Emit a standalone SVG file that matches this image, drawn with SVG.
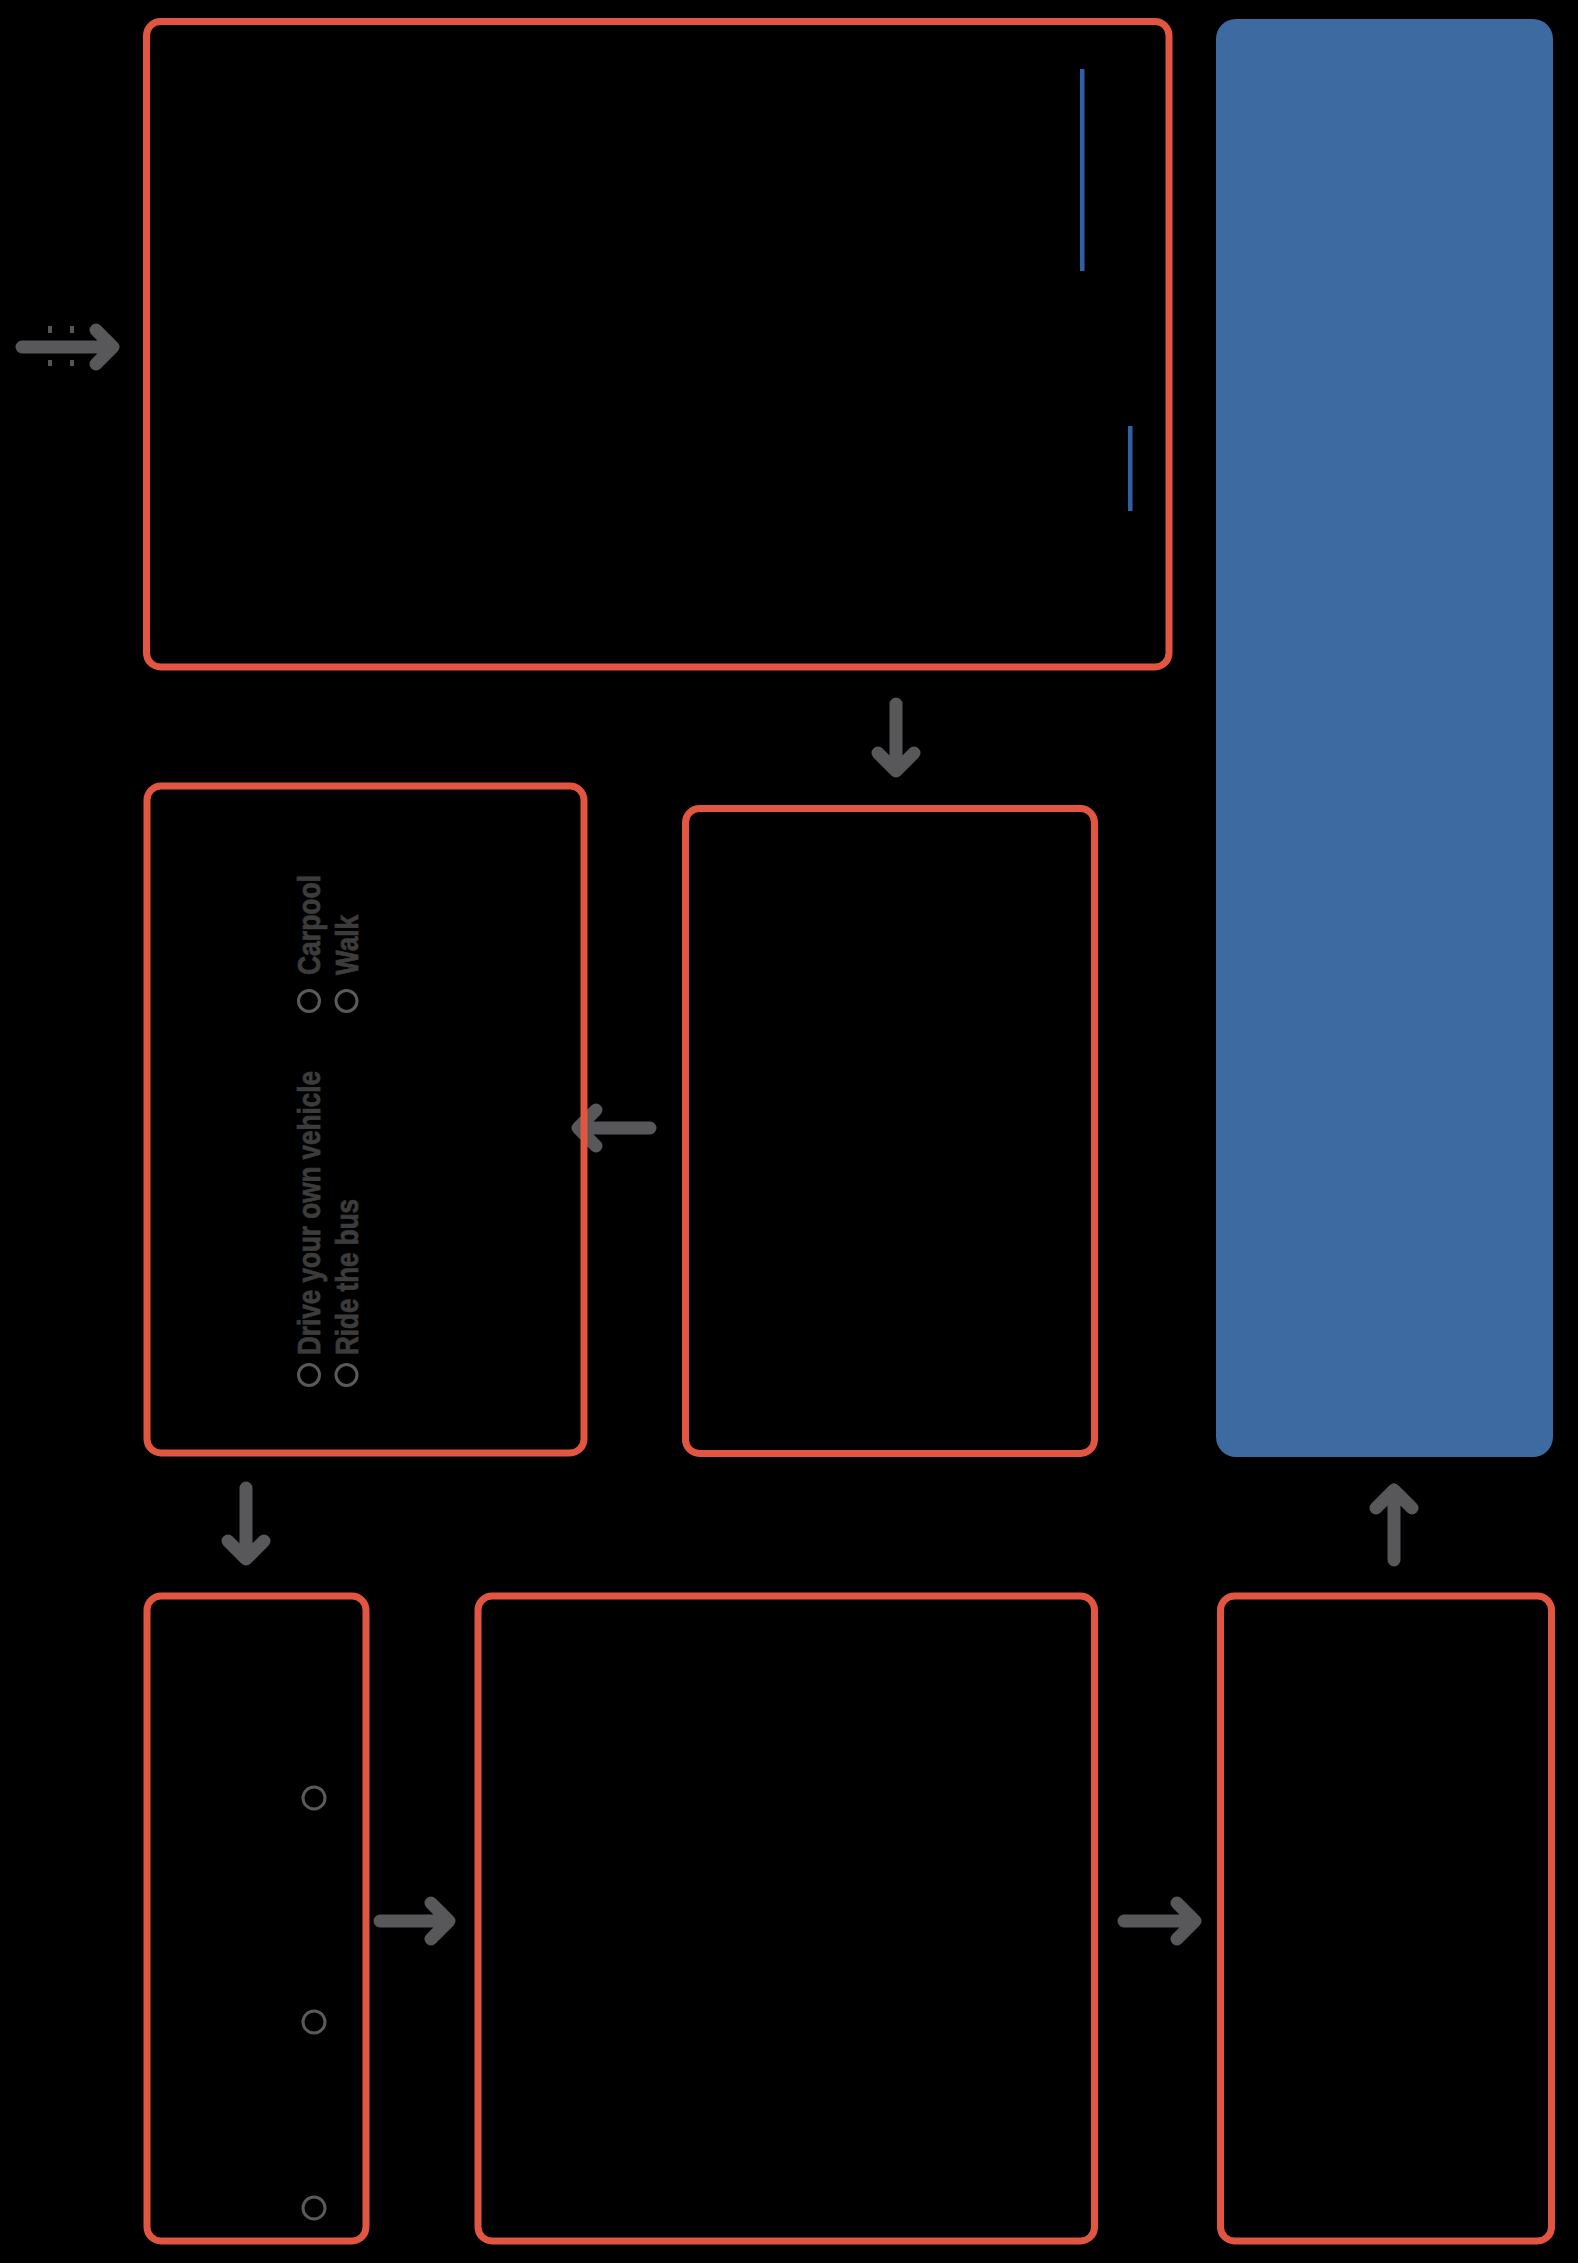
<svg xmlns="http://www.w3.org/2000/svg" width="1578" height="2263" viewBox="0 0 1578 2263">
  <defs>
    <style>
      .box { fill: none; stroke: #e15541; stroke-width: 7; }
      .arrow { fill: none; stroke: #58585b; stroke-width: 13; stroke-linecap: round; stroke-linejoin: round; }
      .ring { fill: none; stroke: #5a5a5a; stroke-width: 3; }
      .opt { font-family: "Liberation Sans", Arial, sans-serif; font-weight: bold; font-size: 31px; fill: #3c3c3c; stroke: #3c3c3c; stroke-width: 0.8; }
      .tick { fill: #555558; }
    </style>
  </defs>
  <rect x="0" y="0" width="1578" height="2263" fill="#000000"/>

  <g id="connectors">
    <g id="entry-arrow">
      <path class="arrow" d="M 22 347 L 113 347 M 96 330 L 113 347 L 96 364"/>
      <rect class="tick" x="48" y="326" width="4" height="7"/>
      <rect class="tick" x="70" y="326" width="4" height="7"/>
      <rect class="tick" x="48" y="360" width="4" height="6"/>
      <rect class="tick" x="70" y="360" width="4" height="6"/>
    </g>
    <path id="arrow-top-to-midright" class="arrow" d="M 896 704 L 896 771 M 878 753 L 896 771 L 914 753"/>
    <path id="arrow-midright-to-midleft" class="arrow" d="M 650 1128 L 578 1128 M 596 1110 L 578 1128 L 596 1146"/>
    <path id="arrow-midleft-to-botleft" class="arrow" d="M 246 1488 L 246 1559 M 228 1541 L 246 1559 L 264 1541"/>
    <path id="arrow-botleft-to-botmid" class="arrow" d="M 380 1921 L 449 1921 M 431 1903 L 449 1921 L 431 1939"/>
    <path id="arrow-botmid-to-botright" class="arrow" d="M 1124 1921 L 1195 1921 M 1177 1903 L 1195 1921 L 1177 1939"/>
    <path id="arrow-botright-to-blue" class="arrow" d="M 1394 1560 L 1394 1490 M 1376 1508 L 1394 1490 L 1412 1508"/>
  </g>

  <g id="node-top">
    <rect class="box" x="146.5" y="21.5" width="1022.5" height="645.5" rx="14" ry="14"/>
    <rect x="1080" y="69" width="4.5" height="202" fill="#2f5fa6"/>
    <rect x="1128" y="426" width="4.5" height="85" fill="#2f5fa6"/>
  </g>

  <g id="node-blue">
    <rect x="1216" y="19" width="337" height="1438" rx="20" ry="20" fill="#3d6aa0"/>
  </g>

  <g id="node-midleft">
    <rect class="box" x="147" y="786" width="437" height="667" rx="14" ry="14"/>
    <circle class="ring" cx="309" cy="1375" r="10.5"/>
    <circle class="ring" cx="346.5" cy="1375" r="10.5"/>
    <circle class="ring" cx="309" cy="1001" r="10.5"/>
    <circle class="ring" cx="346.5" cy="1001" r="10.5"/>
    <text class="opt" transform="translate(320,1355) rotate(-90)" textLength="284" lengthAdjust="spacingAndGlyphs">Drive your own vehicle</text>
    <text class="opt" transform="translate(358,1355) rotate(-90)" textLength="156" lengthAdjust="spacingAndGlyphs">Ride the bus</text>
    <text class="opt" transform="translate(320,975) rotate(-90)" textLength="100" lengthAdjust="spacingAndGlyphs">Carpool</text>
    <text class="opt" transform="translate(358,975) rotate(-90)" textLength="60" lengthAdjust="spacingAndGlyphs">Walk</text>
  </g>

  <g id="node-midright">
    <rect class="box" x="685.5" y="808.5" width="409" height="645" rx="14" ry="14"/>
  </g>

  <g id="node-botleft">
    <rect class="box" x="147" y="1596" width="219" height="645" rx="14" ry="14"/>
    <circle class="ring" cx="314" cy="1798" r="11"/>
    <circle class="ring" cx="314" cy="2022" r="11"/>
    <circle class="ring" cx="314" cy="2208" r="11"/>
  </g>

  <g id="node-botmid">
    <rect class="box" x="478" y="1596" width="616.5" height="645" rx="14" ry="14"/>
  </g>

  <g id="node-botright">
    <rect class="box" x="1220.5" y="1596" width="331" height="645" rx="14" ry="14"/>
  </g>
</svg>
